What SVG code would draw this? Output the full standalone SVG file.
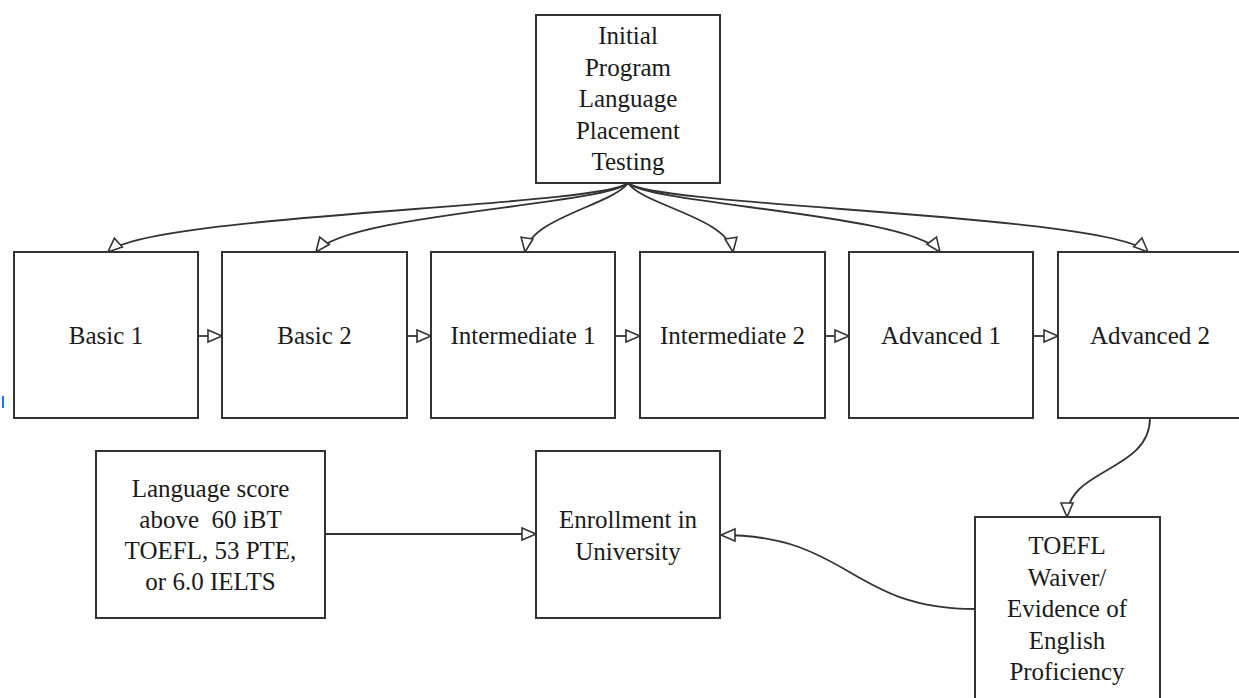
<svg xmlns="http://www.w3.org/2000/svg" width="1239" height="698" viewBox="0 0 1239 698">
<defs>
<marker id="arr" markerUnits="userSpaceOnUse" markerWidth="18" markerHeight="16" viewBox="-2 -2 18 16" refX="14" refY="6" orient="auto">
<path d="M0,0 L14,6 L0,12 Z" fill="#fff" stroke="#333" stroke-width="1.6" stroke-linejoin="miter"/>
</marker>
</defs>
<style>
.box{fill:#fff;stroke:#333;stroke-width:2}
.t{font-family:"Liberation Serif","Times New Roman",serif;font-size:25px;fill:#1a1a1a;text-anchor:middle}
.c{fill:none;stroke:#333;stroke-width:1.8;marker-end:url(#arr)}
</style>
<rect width="1239" height="698" fill="#fff"/>
<g id="connectors">
<path class="c" d="M628,183 C600,207 150,214 108,252"/>
<path class="c" d="M628,183 C605,205 345,214 316,252"/>
<path class="c" d="M628,183 C612,205 530,218 525,252"/>
<path class="c" d="M628,183 C643,205 728,218 733,252"/>
<path class="c" d="M628,183 C652,205 912,214 940,252"/>
<path class="c" d="M628,183 C656,207 1108,214 1148,252"/>
<path class="c" d="M198,336 L222,336"/>
<path class="c" d="M407,336 L431,336"/>
<path class="c" d="M615,336 L640,336"/>
<path class="c" d="M825,336 L849,336"/>
<path class="c" d="M1033,336 L1058,336"/>
<path class="c" d="M1150,418 C1150,472 1067,468 1067,517"/>
<path class="c" d="M975,609 C850,609 850,535 721,535"/>
<path class="c" d="M325,534 L536,534"/>
</g>
<g id="n-initial">
<rect class="box" x="536" y="15" width="184" height="168"/>
<text class="t" x="628" y="44">Initial</text>
<text class="t" x="628" y="75.5">Program</text>
<text class="t" x="628" y="107">Language</text>
<text class="t" x="628" y="138.5">Placement</text>
<text class="t" x="628" y="170">Testing</text>
</g>
<g id="n-basic1">
<rect class="box" x="14" y="252" width="184" height="166"/>
<text class="t" x="106" y="344">Basic 1</text>
</g>
<g id="n-basic2">
<rect class="box" x="222" y="252" width="185" height="166"/>
<text class="t" x="314.5" y="344">Basic 2</text>
</g>
<g id="n-int1">
<rect class="box" x="431" y="252" width="184" height="166"/>
<text class="t" x="523" y="344">Intermediate 1</text>
</g>
<g id="n-int2">
<rect class="box" x="640" y="252" width="185" height="166"/>
<text class="t" x="732.5" y="344">Intermediate 2</text>
</g>
<g id="n-adv1">
<rect class="box" x="849" y="252" width="184" height="166"/>
<text class="t" x="941" y="344">Advanced 1</text>
</g>
<g id="n-adv2">
<rect class="box" x="1058" y="252" width="184" height="166"/>
<text class="t" x="1150" y="344">Advanced 2</text>
</g>
<g id="n-score">
<rect class="box" x="96" y="451" width="229" height="167"/>
<text class="t" x="210.5" y="497">Language score</text>
<text class="t" x="210.5" y="528" xml:space="preserve" style="white-space:pre">above  60 iBT</text>
<text class="t" x="210.5" y="559">TOEFL, 53 PTE,</text>
<text class="t" x="210.5" y="590">or 6.0 IELTS</text>
</g>
<g id="n-enroll">
<rect class="box" x="536" y="451" width="184" height="167"/>
<text class="t" x="628" y="528">Enrollment in</text>
<text class="t" x="628" y="560">University</text>
</g>
<g id="n-toefl">
<rect class="box" x="975" y="517" width="185" height="190"/>
<text class="t" x="1067" y="554">TOEFL</text>
<text class="t" x="1067" y="585.5">Waiver/</text>
<text class="t" x="1067" y="617">Evidence of</text>
<text class="t" x="1067" y="648.5">English</text>
<text class="t" x="1067" y="680">Proficiency</text>
</g>
<line x1="3" y1="396" x2="3" y2="408" stroke="#1a73e8" stroke-width="2"/>
</svg>
